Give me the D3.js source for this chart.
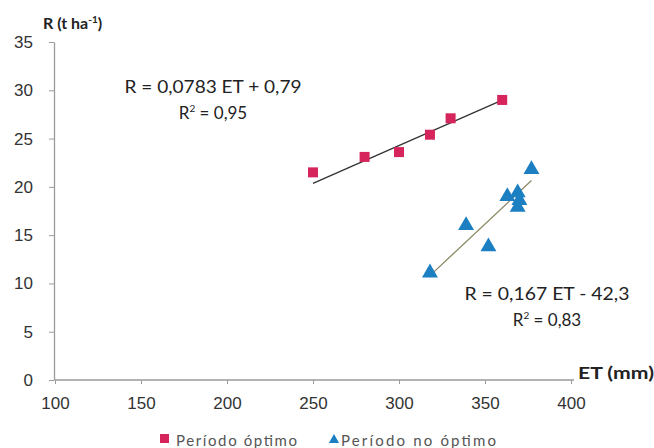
<!DOCTYPE html>
<html><head><meta charset="utf-8">
<script src="https://cdn.jsdelivr.net/npm/d3@7"></script>
<style>body{margin:0;background:#fff}svg{font-family:Lato,"Open Sans",sans-serif}</style>
</head><body><svg id="c" width="654" height="448"></svg>
<script>
const xTicks = [100,150,200,250,300,350,400];
const yTicks = [0,5,10,15,20,25,30,35];
const optimoET = [250,280,300,318,330,360];
const optimoR = [21.5,23.1,23.6,25.4,27.1,29.0];
const noOptimoET = [377,363,369,369,370,339,352,318];
const noOptimoR = [21.8,19.0,19.4,17.9,18.6,16.0,13.8,11.1];
const fit1 = {a:0.0783, b:0.79, x0:250, x1:360};
const fit2 = {a:0.167, b:-42.3, x0:318, x1:377};
const seriesNames = ["Período óptimo","Período no óptimo"];

const svg = d3.select("#c");
const x = d3.scaleLinear().domain([100,400]).range([55,571]);
const y = d3.scaleLinear().domain([0,35]).range([380,42]);
const axisCol = "#9a9a9a";

const xa = svg.append("g").attr("transform","translate(0,380)")
  .call(d3.axisBottom(x).tickValues(xTicks).tickSize(4).tickSizeOuter(0));
xa.select(".domain").attr("stroke",axisCol).attr("stroke-width",1.3).attr("d","M55,0H574");
xa.selectAll(".tick line").attr("stroke",axisCol);
xa.selectAll("text").attr("fill","#333").attr("font-size",17).attr("dy","1.3em");

const ya = svg.append("g").attr("transform","translate(54,0)")
  .call(d3.axisLeft(y).tickValues(yTicks).tickSize(5).tickSizeOuter(0));
ya.select(".domain").attr("stroke",axisCol).attr("stroke-width",1.3);
ya.selectAll(".tick line").attr("stroke",axisCol);
ya.selectAll("text").attr("fill","#333").attr("font-size",17).attr("x",-21);

// fit lines
svg.append("line").attr("x1",x(fit1.x0)).attr("y1",y(fit1.a*fit1.x0+fit1.b))
  .attr("x2",x(fit1.x1)).attr("y2",y(fit1.a*fit1.x1+fit1.b))
  .attr("stroke","#333").attr("stroke-width",1.3);
svg.append("line").attr("x1",x(fit2.x0)).attr("y1",y(fit2.a*fit2.x0+fit2.b))
  .attr("x2",x(fit2.x1)).attr("y2",y(fit2.a*fit2.x1+fit2.b))
  .attr("stroke","#8d8a66").attr("stroke-width",1.3);

// points
const red = "#d6245c", blue = "#1b7fc2";
svg.append("g").selectAll("rect").data(optimoET.map((v,i)=>[v,optimoR[i]])).join("rect")
  .attr("x",d=>x(d[0])-5).attr("y",d=>y(d[1])-5).attr("width",10).attr("height",10).attr("fill",red);
const tri = d3.symbol().type(d3.symbolTriangle).size(110);
svg.append("g").selectAll("path").data(noOptimoET.map((v,i)=>[v,noOptimoR[i]])).join("path")
  .attr("d",tri).attr("transform",d=>`translate(${x(d[0])},${y(d[1])})`).attr("fill",blue);

// labels
svg.append("text").attr("x",43).attr("y",29).attr("font-size",16).attr("font-weight","bold").attr("fill","#222")
  .html('R (t ha<tspan dy="-6" font-size="10">-1</tspan><tspan dy="6">)</tspan>');
svg.append("text").attr("x",578).attr("y",379).attr("font-size",17).attr("font-weight","bold").attr("fill","#222")
  .attr("textLength",76).attr("lengthAdjust","spacingAndGlyphs").text("ET (mm)");

function eq(cx,cy,l1,w1,r2){
  svg.append("text").attr("x",cx).attr("y",cy).attr("text-anchor","middle").attr("font-size",17).attr("fill","#222")
    .attr("textLength",w1).attr("lengthAdjust","spacingAndGlyphs").text(l1);
  svg.append("text").attr("x",cx).attr("y",cy+26).attr("text-anchor","middle").attr("font-size",17).attr("fill","#222")
    .html('R<tspan dy="-7" font-size="10">2</tspan><tspan dy="7"> = '+r2+'</tspan>');
}
eq(213,93,"R = 0,0783 ET + 0,79",177,"0,95");
eq(547,300,"R = 0,167 ET - 42,3",165,"0,83");

// legend
const lg = svg.append("g");
lg.append("rect").attr("x",160).attr("y",434).attr("width",9).attr("height",9).attr("fill",red);
lg.append("text").attr("x",176).attr("y",446).attr("font-size",15).attr("fill","#555")
  .attr("textLength",121).attr("lengthAdjust","spacing").text(seriesNames[0]);
lg.append("path").attr("d",d3.symbol().type(d3.symbolTriangle).size(45)).attr("transform","translate(334,440)").attr("fill",blue);
lg.append("text").attr("x",341).attr("y",446).attr("font-size",15).attr("fill","#555")
  .attr("textLength",155).attr("lengthAdjust","spacing").text(seriesNames[1]);
</script></body></html>
